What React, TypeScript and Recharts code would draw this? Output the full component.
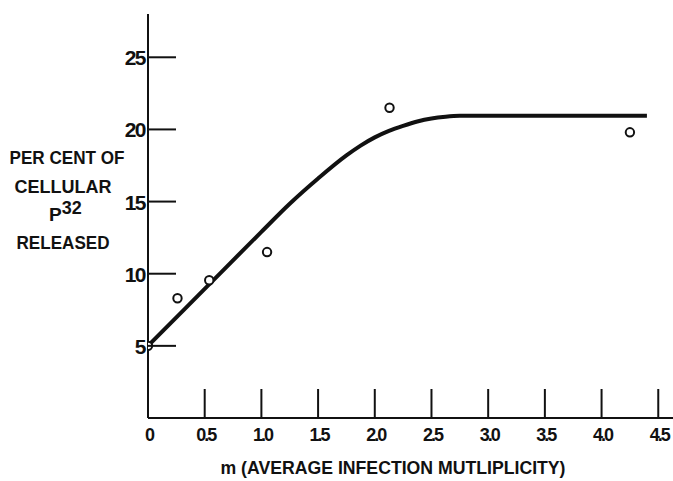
import React from 'react';
import { ComposedChart, Line, Scatter, XAxis, YAxis, Customized } from 'recharts';

const curveM = [0, 0.5, 1.0, 1.25, 1.5, 1.75, 1.875, 2.0, 2.125, 2.25, 2.375, 2.5, 2.625, 2.75, 3.0, 3.5, 4.0, 4.4];
const curvePct = [5, 8.95, 12.9, 14.85, 16.6, 18.2, 18.88, 19.45, 19.9, 20.25, 20.55, 20.76, 20.88, 20.94, 20.95, 20.95, 20.95, 20.95];

const pointM = [0, 0.26, 0.54, 1.05, 2.13, 4.25];
const pointPct = [5, 8.3, 9.55, 11.5, 21.5, 19.8];

const xTicks = [0, 0.5, 1.0, 1.5, 2.0, 2.5, 3.0, 3.5, 4.0, 4.5];
const xTickLabels = ['0', '0.5', '1.0', '1.5', '2.0', '2.5', '3.0', '3.5', '4.0', '4.5'];
const yTicks = [5, 10, 15, 20, 25];
const yTickLabels = ['5', '10', '15', '20', '25'];

const curveData = curveM.map((m, i) => ({ m, pct: curvePct[i] }));
const pointData = pointM.map((m, i) => ({ m, pct: pointPct[i] }));

const INK = '#111';
const FONT = '"Liberation Sans", Arial, sans-serif';

const XTick = (props: any) => {
  const { x, y, payload } = props;
  const idx = xTicks.indexOf(payload.value);
  const label = idx >= 0 ? xTickLabels[idx] : String(payload.value);
  return (
    <g>
      {payload.value !== 0 && (
        <line x1={x} x2={x} y1={y - 29} y2={y} stroke={INK} strokeWidth={2} />
      )}
      <text x={x + 1} y={y + 23} textAnchor="middle" fontSize={18} fontWeight="bold" fontFamily={FONT} fill={INK} letterSpacing={-2}>
        {label}
      </text>
    </g>
  );
};

const YTick = (props: any) => {
  const { x, y, payload } = props;
  const idx = yTicks.indexOf(payload.value);
  const label = idx >= 0 ? yTickLabels[idx] : String(payload.value);
  return (
    <g>
      <line x1={x} x2={x + 28} y1={y} y2={y} stroke={INK} strokeWidth={2} />
      <text x={x - 3} y={y + 8} textAnchor="end" fontSize={21} fontWeight="bold" fontFamily={FONT} fill={INK} letterSpacing={-1.5}>
        {label}
      </text>
    </g>
  );
};

const Titles = () => (
  <g fontFamily={FONT} fill={INK} fontWeight="bold">
    <text x={67} y={164} textAnchor="middle" fontSize={19} textLength={115} lengthAdjust="spacingAndGlyphs">PER CENT OF</text>
    <text x={63} y={193} textAnchor="middle" fontSize={19} textLength={97} lengthAdjust="spacingAndGlyphs">CELLULAR</text>
    <text x={49} y={221} fontSize={19}>
      P<tspan dy={-7} fontSize={18}>32</tspan>
    </text>
    <text x={63} y={249} textAnchor="middle" fontSize={19} textLength={93} lengthAdjust="spacingAndGlyphs">RELEASED</text>
    <text x={393} y={474} textAnchor="middle" fontSize={18} textLength={345} lengthAdjust="spacingAndGlyphs">m (AVERAGE INFECTION MUTLIPLICITY)</text>
  </g>
);

const OpenCircle = (props: any) => {
  const { cx, cy } = props;
  return <circle cx={cx} cy={cy} r={4.2} fill="#fff" stroke={INK} strokeWidth={2} />;
};

export default function App() {
  return (
    <div style={{ position: 'absolute', left: 0, top: 0, background: '#fff' }}>
      <ComposedChart width={673} height={481} margin={{ top: 14, right: 0, bottom: 0, left: 88 }}>
        <XAxis
          type="number"
          dataKey="m"
          domain={[0, 4.63]}
          ticks={xTicks}
          interval={0}
          height={63}
          tickSize={0}
          tickMargin={0}
          tickLine={false}
          tick={<XTick />}
          axisLine={{ stroke: INK, strokeWidth: 2 }}
          allowDataOverflow
        />
        <YAxis
          type="number"
          dataKey="pct"
          domain={[0, 28]}
          ticks={yTicks}
          interval={0}
          width={60}
          tickSize={0}
          tickMargin={0}
          tickLine={false}
          tick={<YTick />}
          axisLine={{ stroke: INK, strokeWidth: 2 }}
          allowDataOverflow
        />
        <Line
          data={curveData}
          dataKey="pct"
          type="monotone"
          stroke={INK}
          strokeWidth={4}
          dot={false}
          activeDot={false}
          isAnimationActive={false}
        />
        <Scatter data={pointData} dataKey="pct" shape={<OpenCircle />} isAnimationActive={false} />
        <Customized component={<Titles />} />
      </ComposedChart>
    </div>
  );
}
